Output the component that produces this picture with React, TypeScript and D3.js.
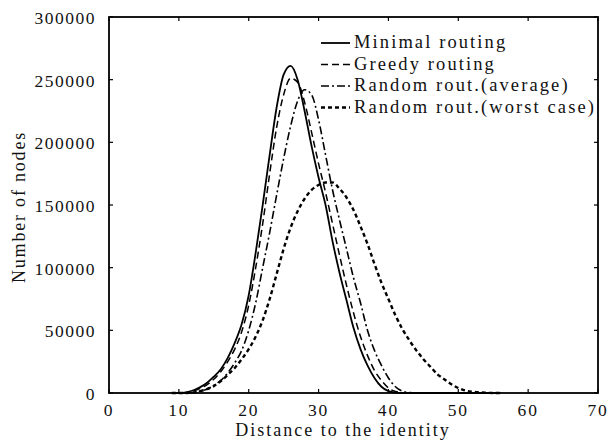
import React from "react";
import * as d3 from "d3";

const distances = [9, 10, 11, 12, 13, 14, 15, 16, 17, 18, 19, 20, 21, 22, 23, 24, 25, 26, 27, 28, 29, 30, 31, 32, 33, 34, 35, 36, 37, 38, 39, 40, 41, 42, 43, 44, 45, 46, 47, 48, 49, 50, 51, 52, 53, 54, 55, 56];

const minimalRouting = [0, 0, 500, 2000, 4500, 8000, 13000, 19000, 28000, 40000, 55000, 78000, 112000, 150000, 190000, 228000, 254000, 261000, 250000, 225000, 197000, 172000, 150000, 121000, 96000, 74000, 52000, 35000, 22000, 12000, 5000, 1500, 300, 0, 0, 0, 0, 0, 0, 0, 0, 0, 0, 0, 0, 0, 0, 0];
const greedyRouting = [0, 0, 300, 1500, 3500, 6500, 11000, 17000, 25000, 35000, 49000, 70000, 100000, 135000, 175000, 212000, 238000, 251000, 248000, 232000, 208000, 183000, 160000, 135000, 110000, 86000, 64000, 45000, 30000, 18000, 10000, 4000, 1200, 300, 0, 0, 0, 0, 0, 0, 0, 0, 0, 0, 0, 0, 0, 0];
const randomAverage = [0, 0, 0, 300, 1500, 3000, 6000, 10000, 16000, 24000, 34000, 50000, 72000, 100000, 128000, 158000, 187000, 213000, 233000, 242000, 238000, 218000, 190000, 162000, 138000, 115000, 92000, 72000, 50000, 34000, 22000, 12000, 5000, 1500, 300, 0, 0, 0, 0, 0, 0, 0, 0, 0, 0, 0, 0, 0];
const randomWorst = [0, 0, 0, 300, 1500, 3000, 5500, 9500, 14500, 20000, 27000, 35000, 45000, 58000, 75000, 95000, 115000, 132000, 145000, 155000, 162000, 166000, 168000, 168000, 163000, 156000, 146000, 133000, 119000, 103000, 88000, 75000, 62000, 51000, 42000, 34000, 27000, 21000, 15000, 11000, 7000, 4000, 2000, 1000, 500, 200, 0, 0];

const seriesNames = ["Minimal routing", "Greedy routing", "Random rout.(average)", "Random rout.(worst case)"];
const xTicks = [0, 10, 20, 30, 40, 50, 60, 70];
const yTicks = [0, 50000, 100000, 150000, 200000, 250000, 300000];

const styles = [
  { dash: "none", width: 1.8 },
  { dash: "7,4", width: 1.5 },
  { dash: "8,3,2,3", width: 1.6 },
  { dash: "4,3", width: 2.4 },
];

export default function App() {
  const W = 608, H = 448;
  const left = 109, right = 598, top = 17, bottom = 393;
  const x = d3.scaleLinear().domain([0, 70]).range([left, right]);
  const y = d3.scaleLinear().domain([0, 300000]).range([bottom, top]);
  const allSeries = [minimalRouting, greedyRouting, randomAverage, randomWorst];
  const line = d3
    .line<number>()
    .x((_, i) => x(distances[i]))
    .y((d) => y(d))
    .curve(d3.curveMonotoneX);
  const font = "'Liberation Serif', 'DejaVu Serif', serif";
  const legendX1 = 321, legendX2 = 350;
  const legendRows = [43, 64.5, 86, 107.5];
  return (
    <svg width={W} height={H} style={{ position: "absolute", left: 0, top: 0, background: "#fff" }} fontFamily={font}>
      <rect x={0} y={0} width={W} height={H} fill="#fff" />
      {allSeries.map((s, i) => (
        <path key={i} d={line(s) || ""} fill="none" stroke="#000" strokeWidth={styles[i].width} strokeDasharray={styles[i].dash} />
      ))}
      <rect x={left} y={top} width={right - left} height={bottom - top} fill="none" stroke="#000" strokeWidth={1.8} />
      {xTicks.map((t) => (
        <g key={"x" + t}>
          <line x1={x(t)} x2={x(t)} y1={bottom} y2={bottom - 4} stroke="#000" strokeWidth={1.2} />
          <line x1={x(t)} x2={x(t)} y1={top} y2={top + 4} stroke="#000" strokeWidth={1.2} />
          <text x={x(t)} y={416} textAnchor="middle" fontSize={17.5} letterSpacing={1.8} fill="#111">{t}</text>
        </g>
      ))}
      {yTicks.map((t) => (
        <g key={"y" + t}>
          <line x1={left} x2={left + 4} y1={y(t)} y2={y(t)} stroke="#000" strokeWidth={1.2} />
          <line x1={right} x2={right - 4} y1={y(t)} y2={y(t)} stroke="#000" strokeWidth={1.2} />
          <text x={96} y={y(t) + 7} textAnchor="end" fontSize={17.5} letterSpacing={1.5} fill="#111">{t}</text>
        </g>
      ))}
      <text x={343} y={436} textAnchor="middle" fontSize={18} letterSpacing={2} fill="#111">Distance to the identity</text>
      <text transform={`translate(25,207) rotate(-90)`} textAnchor="middle" fontSize={18} letterSpacing={1.8} fill="#111">Number of nodes</text>
      {seriesNames.map((n, i) => (
        <g key={n}>
          <line x1={legendX1} x2={legendX2} y1={legendRows[i]} y2={legendRows[i]} stroke="#000" strokeWidth={styles[i].width} strokeDasharray={styles[i].dash} />
          <text x={354} y={legendRows[i] + 5} fontSize={18.5} letterSpacing={2.1} fill="#111">{n}</text>
        </g>
      ))}
    </svg>
  );
}
